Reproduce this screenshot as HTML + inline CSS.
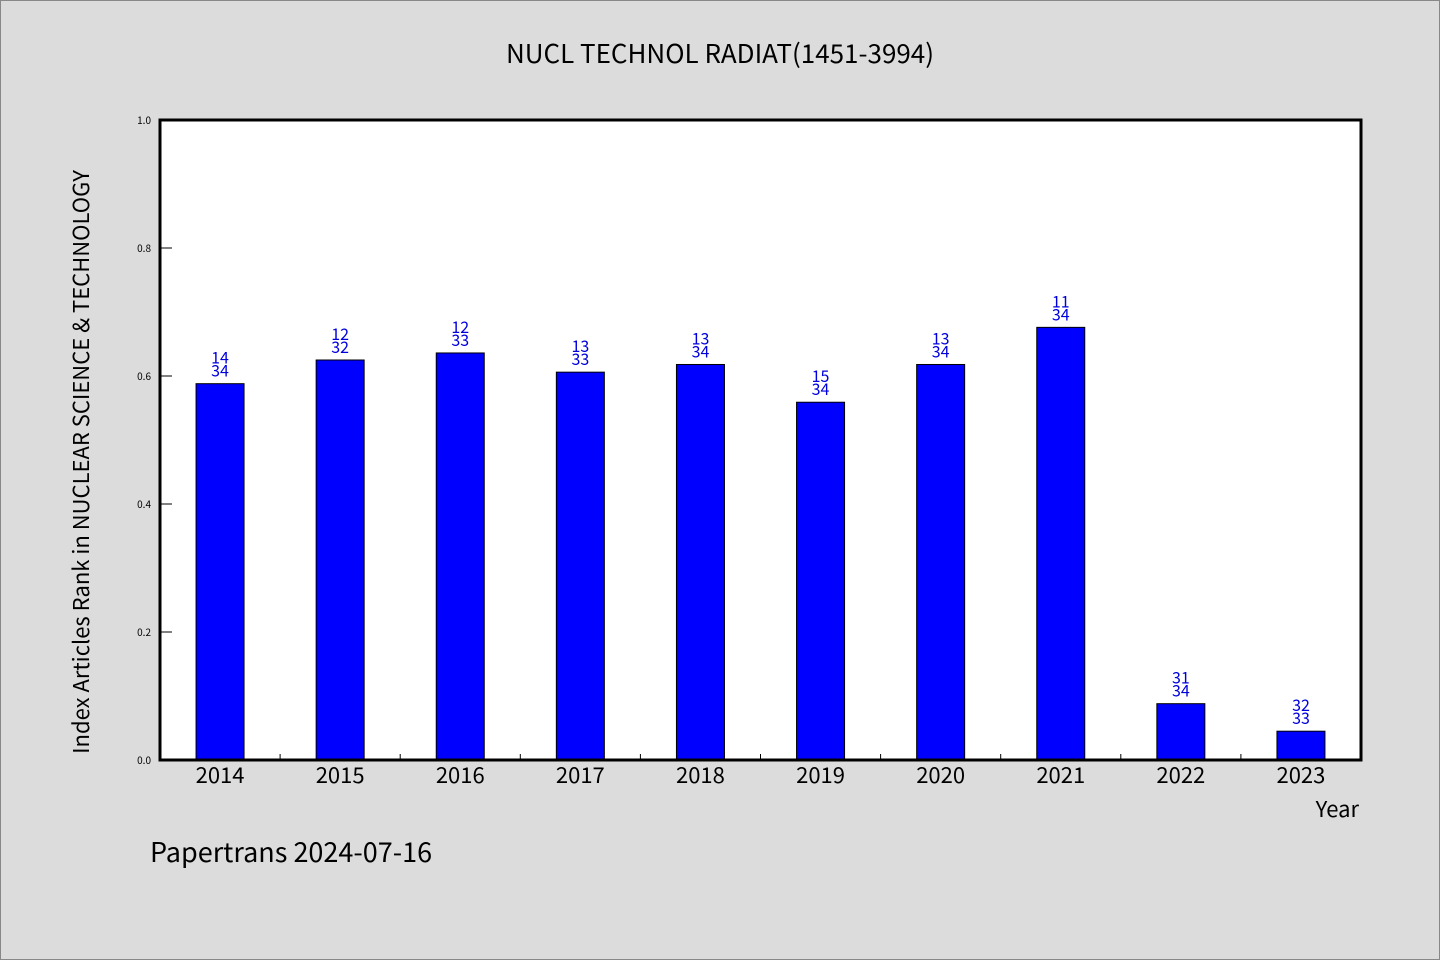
<!DOCTYPE html>
<html><head><meta charset="utf-8"><style>
html,body{margin:0;padding:0;background:#dcdcdc;}
svg{display:block;font-family:"WenQuanYi Zen Hei","Noto Sans CJK SC","Liberation Sans",sans-serif;}
</style></head><body>
<svg id="chart" width="1440" height="960" viewBox="0 0 1440 960">
<rect x="0.5" y="0.5" width="1439" height="959" fill="#dcdcdc" stroke="#888"/>
<text x="720" y="63" font-size="26" text-anchor="middle" fill="#000">NUCL TECHNOL RADIAT(1451-3994)</text>
<rect x="160" y="120" width="1201" height="640" fill="#fff"/>
<g id="bars"></g>
<g id="axes"></g>
<rect x="160" y="120" width="1201" height="640" fill="none" stroke="#000" stroke-width="3"/>
<text transform="translate(89,462) rotate(-90)" font-size="22" text-anchor="middle" fill="#000">Index Articles Rank in NUCLEAR SCIENCE &amp; TECHNOLOGY</text>
<text x="1359" y="817" font-size="22" text-anchor="end" fill="#000">Year</text>
<text x="150" y="862" font-size="27" fill="#000">Papertrans 2024-07-16</text>
</svg>
<script>
const years = ["2014","2015","2016","2017","2018","2019","2020","2021","2022","2023"];
const values = [0.588,0.625,0.636,0.606,0.618,0.559,0.618,0.676,0.088,0.045];
const ranks = ["14","12","12","13","13","15","13","11","31","32"];
const totals = ["34","32","33","33","34","34","34","34","34","33"];
const yTicks = ["0.0","0.2","0.4","0.6","0.8","1.0"];
const NS="http://www.w3.org/2000/svg";
const x0=160,x1=1361,y0=760,y1=120;
const step=(x1-x0)/years.length;
function xs(i){return x0+step*(i+0.5);}
function ys(v){return y0-(y0-y1)*v;}
function mk(t,a,p){const e=document.createElementNS(NS,t);for(const k in a)e.setAttribute(k,a[k]);p.appendChild(e);return e;}
const bars=document.getElementById('bars'),axes=document.getElementById('axes');
years.forEach((y,i)=>{
  const cx=xs(i),top=ys(values[i]);
  const r=mk('rect',{x:cx-24,y:top,width:48,height:y0-top,fill:'#0000ff',stroke:'#000','stroke-width':1},bars);
  
  
  const t1=mk('text',{x:cx,y:top-20,'font-size':16,'text-anchor':'middle',fill:'#0000dd'},bars);
  t1.textContent=ranks[i];
  
  
  const t2=mk('text',{x:cx,y:top-7,'font-size':16,'text-anchor':'middle',fill:'#0000dd'},bars);
  t2.textContent=totals[i];
  
  
  const xl=mk('text',{x:cx,y:783,'font-size':22,'text-anchor':'middle',fill:'#000'},axes);
  xl.textContent=y;
  
  
  if(i>0){const tk=mk('line',{x1:x0+step*i,x2:x0+step*i,y1:y0,y2:y0-6,stroke:'#000','stroke-width':1},axes);
  
  }
});
yTicks.forEach(s=>{
  const yy=ys(parseFloat(s));
  const l=mk('line',{x1:x0,x2:x0+12,y1:yy,y2:yy,stroke:'#000','stroke-width':1},axes);
  
  
  const t=mk('text',{x:151,y:yy+4,'font-size':10,'text-anchor':'end',fill:'#000'},axes);
  t.textContent=s;
  
  
});
</script>
</body></html>
